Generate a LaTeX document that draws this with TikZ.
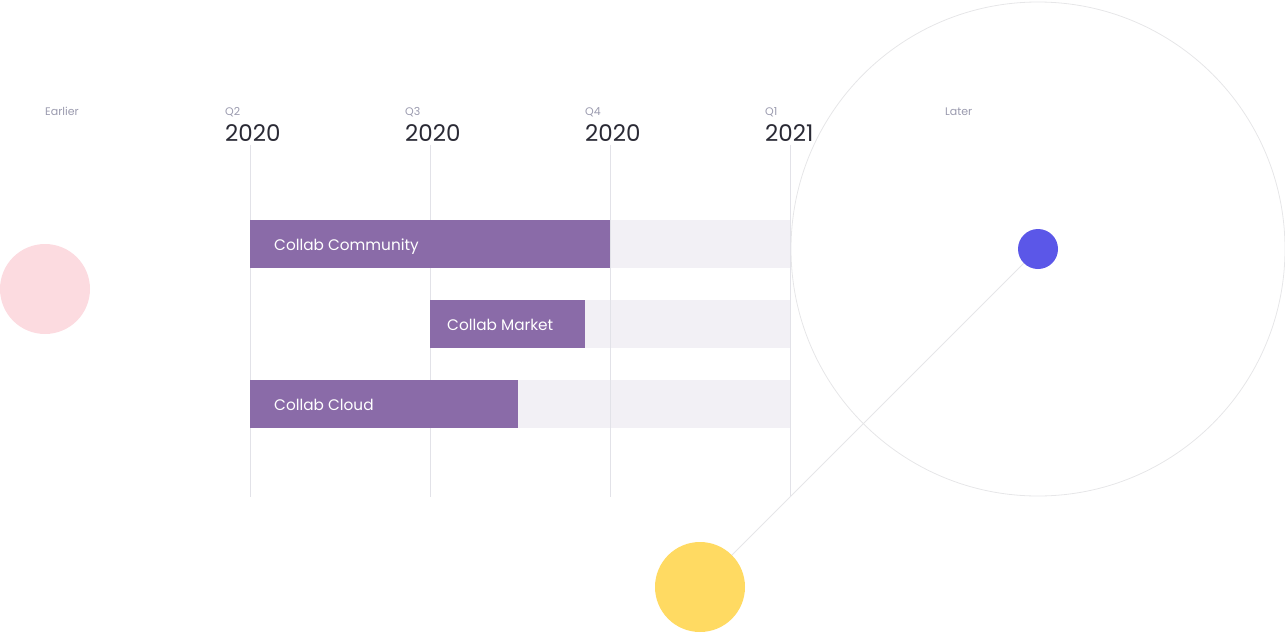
\documentclass[tikz,border=0pt]{standalone}
\usepackage{fontspec}
\setmainfont{Poppins}
\begin{document}
\begin{tikzpicture}[x=1pt,y=-1pt,
  grid/.style={draw=gridgray,line width=0.8pt},
  bar/.style={fill=barpurple,draw=none},
  track/.style={fill=tracklav,draw=none},
  barlabel/.style={anchor=base west,text=white,font=\fontsize{15.3}{18}\selectfont,inner sep=0pt},
  qlabel/.style={anchor=base west,text=labelgray,font=\fontsize{11}{13}\selectfont,inner sep=0pt},
  yearlabel/.style={anchor=base west,text=yeardark,font=\fontsize{23}{27}\selectfont,inner sep=0pt},
  dot/.style={circle,draw=none,inner sep=0pt}]
\definecolor{gridgray}{HTML}{E2E2E8}
\definecolor{barpurple}{HTML}{8A6BA8}
\definecolor{tracklav}{HTML}{F2F0F5}
\definecolor{labelgray}{HTML}{9A9AAE}
\definecolor{yeardark}{HTML}{2A2A35}
\definecolor{ringgray}{HTML}{E6E6E8}
\definecolor{bluedot}{HTML}{5B57E8}
\definecolor{pinkdot}{HTML}{FCDBE0}
\definecolor{yellowdot}{HTML}{FFDA62}
\useasboundingbox (0,0) rectangle (1285,632);
% big ring
\node[dot,draw=ringgray,line width=0.8pt,minimum size=494pt] (ring) at (1038,249) {};
% tracks
\fill[track] (610,220) rectangle (790,268);
\fill[track] (585,300) rectangle (790,348);
\fill[track] (518,380) rectangle (790,428);
% grid lines
\foreach \x/\n in {250/g1,430/g2,610/g3,790/g4}{
  \coordinate (\n top) at (\x,145);
  \coordinate (\n bot) at (\x,497);
  \draw[grid] (\n top) -- (\n bot);
}
% bars
\fill[bar] (250,220) rectangle (610,268);
\fill[bar] (430,300) rectangle (585,348);
\fill[bar] (250,380) rectangle (518,428);
\node[barlabel] (b1) at (274,250.5) {Collab Community};
\node[barlabel] (b2) at (447,330.5) {Collab Market};
\node[barlabel] (b3) at (274,410.5) {Collab Cloud};
% header labels
\node[qlabel] (earlier) at (45,115) {Earlier};
\node[qlabel] (q2) at (225,115) {Q2};
\node[qlabel] (q3) at (405,115) {Q3};
\node[qlabel] (q4) at (585,115) {Q4};
\node[qlabel] (q1) at (765,115) {Q1};
\node[qlabel] (later) at (945,115) {Later};
\node[yearlabel] (y2) at (225,141) {2020};
\node[yearlabel] (y3) at (405,141) {2020};
\node[yearlabel] (y4) at (585,141) {2020};
\node[yearlabel] (y1) at (765,141) {2021};
% dots
\node[dot,fill=pinkdot,minimum size=90pt] (pink) at (45,289) {};
\node[dot,fill=yellowdot,minimum size=90pt] (yellow) at (700,587) {};
\node[dot,fill=bluedot,minimum size=40pt] (blue) at (1038,249) {};
\draw[draw=ringgray,line width=0.9pt] (blue) -- (yellow);
\end{tikzpicture}
\end{document}
